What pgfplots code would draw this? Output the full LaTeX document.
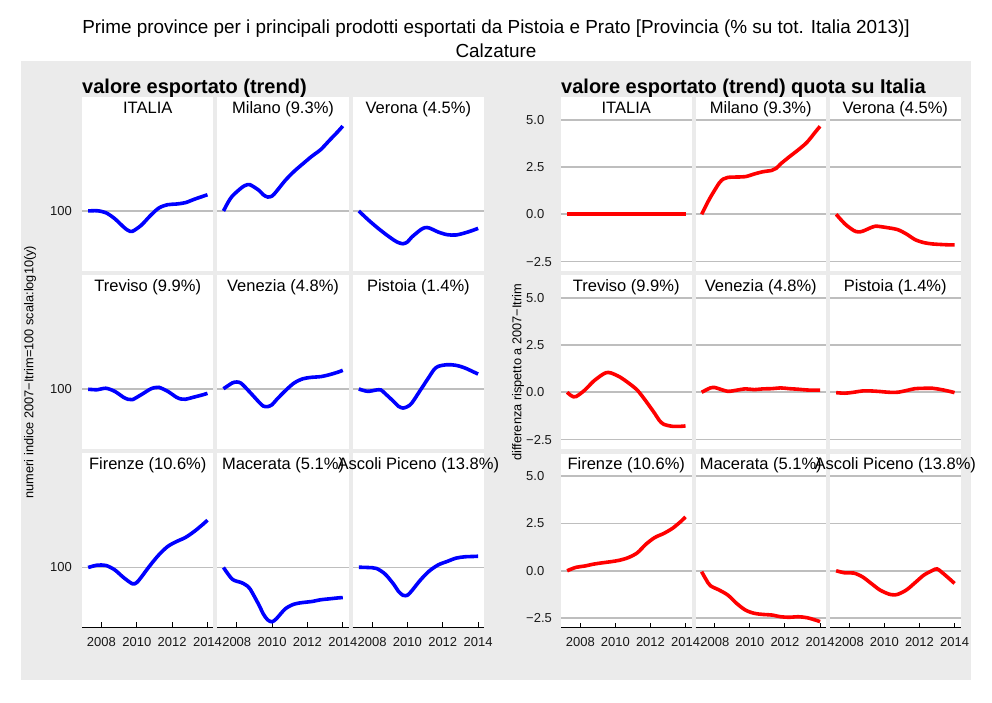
\documentclass[border=0pt]{standalone}
\usepackage{fontspec}
\setmainfont{Liberation Sans}
\usepackage{pgfplots}
\pgfplotsset{compat=1.18}

\definecolor{bg}{RGB}{235,235,235}
\definecolor{gridgray}{RGB}{190,190,190}

\pgfplotsset{
  /pgf/number format/assume math mode=true,
  every axis title shift=0pt,
  mypanel/.style={
    scale only axis, width=131.5pt, height=174pt,
    xmin=2006.9, xmax=2014.34,
    axis line style={draw=none},
    xtick style={draw=none}, ytick style={draw=none},
    xtick={2008,2010,2012,2014}, xticklabels={},
    ymajorgrids, grid style={draw=gridgray, line width=1.6pt},
    axis background/.style={fill=white},
    title style={at={(0.5,1)}, anchor=base, yshift=-16.3pt, inner sep=0pt,
      font=\fontsize{16.5}{19}\selectfont},
    tick label style={font=\fontsize{13}{15}\selectfont, text=black!90},
  },
  mylpanel/.style={mypanel, ymin=61.05, ymax=255.4, ytick={100}, yticklabels={}},
  myrpanel/.style={mypanel, width=130.5pt, ymin=-3.0, ymax=6.2, ytick={-2.5,0,2.5,5}, yticklabels={}},
  mylfirst/.style={yticklabels={100}, yticklabel style={anchor=east, inner sep=0pt, xshift=-10pt}},
  myrfirst/.style={yticklabels={−2.5,0.0,2.5,5.0}, yticklabel style={anchor=west, inner sep=0pt, xshift=-35pt}},
  mybottom/.style={
    xtick style={draw=black, line width=1pt}, xtick pos=left, tick align=inside,
    major tick length=5pt, xticklabels={2008,2010,2012,2014},
    xticklabel style={inner sep=0pt, anchor=north, yshift=-10pt},
    after end axis/.code={\draw[black, line width=1.2pt] (rel axis cs:0,0) -- (rel axis cs:1,0);},
  },
  mybline/.style={blue, line width=3.6pt, smooth},
  myrline/.style={red, line width=3.6pt, smooth},
}

\begin{document}
\begin{tikzpicture}
\fill[white] (0pt,0pt) rectangle (992pt,702pt);
\fill[bg] (21pt,22pt) rectangle (971pt,641pt);

\node[anchor=base, inner sep=0pt, font=\fontsize{18.9}{22}\selectfont] at (496pt,668.7pt)
  {Prime province per i principali prodotti esportati da Pistoia e Prato [Provincia (\% su tot. Italia 2013)]};
\node[anchor=base, inner sep=0pt, font=\fontsize{18.9}{22}\selectfont] at (496pt,644.7pt) {Calzature};

\node[anchor=base west, inner sep=0pt, font=\fontsize{20}{24}\selectfont\bfseries] at (82pt,608.7pt)
  {valore esportato (trend)};
\node[anchor=base west, inner sep=0pt, font=\fontsize{20}{24}\selectfont\bfseries] at (561pt,608.7pt)
  {valore esportato (trend) quota su Italia};

\node[rotate=90, font=\fontsize{12.8}{15}\selectfont] at (30pt,330pt)
  {numeri indice 2007−Itrim=100 scala:log10(y)};
\node[rotate=90, font=\fontsize{12.8}{15}\selectfont] at (518pt,330pt)
  {differenza rispetto a 2007−Itrim};

% ---- valore esportato (trend): indici, scala log ----
\begin{axis}[ymode=log, mylpanel, mylfirst, at={(82pt,431pt)}, anchor=south west, title={ITALIA}]
\addplot[mybline] coordinates {(2007.25,100) (2007.75,100.2) (2008.25,98.6) (2008.75,93.9) (2009.25,87.7) (2009.5,85.3) (2009.75,84.6) (2010.25,88.9) (2010.75,96.0) (2011.25,102.5) (2011.75,105.3) (2012.25,105.9) (2012.75,107.1) (2013.25,110.1) (2013.75,112.9) (2014,114.3)};
\end{axis}
\begin{axis}[ymode=log, mylpanel, at={(217.3pt,431pt)}, anchor=south west, title={Milano (9.3\%)}]
\addplot[mybline] coordinates {(2007.25,100) (2007.5,107.1) (2007.75,113.1) (2008.25,120.8) (2008.5,123.5) (2008.75,124.1) (2009.25,118.6) (2009.5,114.3) (2009.75,112.2) (2010,113.1) (2010.25,117.6) (2010.75,128.7) (2011.25,138.6) (2011.75,147.6) (2012.25,156.9) (2012.75,165.7) (2013.25,178.9) (2013.75,193.0) (2014,201.1)};
\end{axis}
\begin{axis}[ymode=log, mylpanel, at={(352.6pt,431pt)}, anchor=south west, title={Verona (4.5\%)}]
\addplot[mybline] coordinates {(2007.25,100) (2007.75,93.4) (2008.25,87.7) (2008.75,82.8) (2009.25,78.6) (2009.5,77.1) (2009.75,76.4) (2010,77.5) (2010.25,80.7) (2010.75,85.7) (2011,87.2) (2011.25,86.9) (2011.75,84.1) (2012.25,82.3) (2012.75,82.1) (2013.25,83.5) (2013.75,85.5) (2014,86.7)};
\end{axis}

\begin{axis}[ymode=log, mylpanel, mylfirst, at={(82pt,253pt)}, anchor=south west, title={Treviso (9.9\%)}]
\addplot[mybline] coordinates {(2007.25,99.8) (2007.75,99.4) (2008.25,100.6) (2008.75,98.1) (2009.25,93.4) (2009.5,91.9) (2009.75,91.6) (2010.25,95.4) (2010.75,99.8) (2011,101.1) (2011.25,101.4) (2011.75,98.1) (2012.25,93.4) (2012.5,92.1) (2012.75,91.9) (2013.25,93.6) (2013.75,95.4) (2014,96.5)};
\end{axis}
\begin{axis}[ymode=log, mylpanel, at={(217.3pt,253pt)}, anchor=south west, title={Venezia (4.8\%)}]
\addplot[mybline] coordinates {(2007.25,100.2) (2007.75,105.1) (2008,105.9) (2008.25,104.8) (2008.75,97.3) (2009.25,89.9) (2009.5,86.9) (2009.75,86.5) (2010,87.9) (2010.25,91.6) (2010.75,98.6) (2011.25,105.1) (2011.75,108.8) (2012.25,110.1) (2012.75,110.7) (2013.25,112.5) (2013.75,115.0) (2014,116.6)};
\end{axis}
\begin{axis}[ymode=log, mylpanel, at={(352.6pt,253pt)}, anchor=south west, title={Pistoia (1.4\%)}]
\addplot[mybline] coordinates {(2007.25,100) (2007.75,98.1) (2008.25,99.2) (2008.5,99.2) (2008.75,96.2) (2009.25,89.9) (2009.5,86.7) (2009.75,85.5) (2010,86.5) (2010.25,89.1) (2010.75,99.4) (2011.25,111.0) (2011.5,117.2) (2011.75,120.5) (2012.25,122.1) (2012.75,121.5) (2013.25,118.9) (2013.75,115.0) (2014,113.1)};
\end{axis}

\begin{axis}[ymode=log, mylpanel, mylfirst, mybottom, at={(82pt,74.5pt)}, anchor=south west, title={Firenze (10.6\%)}]
\addplot[mybline] coordinates {(2007.25,100) (2007.75,101.9) (2008.25,101.7) (2008.75,98.1) (2009.25,92.1) (2009.75,87.5) (2010,88.4) (2010.25,92.3) (2010.75,101.7) (2011.25,111.0) (2011.75,118.9) (2012.25,123.8) (2012.75,128.0) (2013.25,134.5) (2013.75,142.8) (2014,147.6)};
\end{axis}
\begin{axis}[ymode=log, mylpanel, mybottom, at={(217.3pt,74.5pt)}, anchor=south west, title={Macerata (5.1\%)}]
\addplot[mybline] coordinates {(2007.25,100) (2007.75,90.8) (2008.25,88.4) (2008.5,86.7) (2008.75,83.9) (2009.25,73.6) (2009.5,68.3) (2009.75,65.0) (2010,64.0) (2010.25,65.7) (2010.75,71.2) (2011.25,74.0) (2011.75,75.0) (2012.25,75.6) (2012.75,76.7) (2013.25,77.3) (2013.75,77.9) (2014,78.1)};
\end{axis}
\begin{axis}[ymode=log, mylpanel, mybottom, at={(352.6pt,74.5pt)}, anchor=south west, title={Ascoli Piceno (13.8\%)}]
\addplot[mybline] coordinates {(2007.25,100.2) (2007.75,100) (2008.25,99.2) (2008.75,94.6) (2009.25,86.7) (2009.5,82.1) (2009.75,79.6) (2010,79.6) (2010.25,82.6) (2010.75,90.4) (2011.25,97.3) (2011.75,102.2) (2012.25,105.1) (2012.75,108.0) (2013.25,109.2) (2013.75,109.5) (2014,109.7)};
\end{axis}

% ---- quota su Italia: differenze ----
\begin{axis}[myrpanel, myrfirst, at={(561pt,431pt)}, anchor=south west, title={ITALIA}]
\addplot[myrline] coordinates {(2007.25,0) (2010,0) (2014,0)};
\end{axis}
\begin{axis}[myrpanel, at={(695.5pt,431pt)}, anchor=south west, title={Milano (9.3\%)}]
\addplot[myrline] coordinates {(2007.25,0) (2007.5,0.46) (2007.75,0.9) (2008.25,1.65) (2008.5,1.87) (2008.75,1.95) (2009.25,1.97) (2009.75,1.99) (2010.25,2.13) (2010.75,2.25) (2011.25,2.32) (2011.5,2.43) (2011.75,2.66) (2012.25,3.04) (2012.75,3.40) (2013.25,3.80) (2013.75,4.37) (2014,4.65)};
\end{axis}
\begin{axis}[myrpanel, at={(830pt,431pt)}, anchor=south west, title={Verona (4.5\%)}]
\addplot[myrline] coordinates {(2007.25,0) (2007.75,-0.51) (2008.25,-0.86) (2008.5,-0.93) (2008.75,-0.90) (2009.25,-0.70) (2009.5,-0.63) (2009.75,-0.65) (2010.25,-0.72) (2010.75,-0.81) (2011.25,-1.04) (2011.75,-1.34) (2012.25,-1.50) (2012.75,-1.57) (2013.25,-1.60) (2013.75,-1.62) (2014,-1.62)};
\end{axis}

\begin{axis}[myrpanel, myrfirst, at={(561pt,253pt)}, anchor=south west, title={Treviso (9.9\%)}]
\addplot[myrline] coordinates {(2007.25,0) (2007.5,-0.19) (2007.75,-0.23) (2008.25,0.11) (2008.75,0.58) (2009.25,0.93) (2009.5,1.04) (2009.75,1.02) (2010.25,0.81) (2010.75,0.49) (2011.25,0.11) (2011.75,-0.48) (2012.25,-1.13) (2012.5,-1.48) (2012.75,-1.69) (2013.25,-1.80) (2013.75,-1.80) (2014,-1.78)};
\end{axis}
\begin{axis}[myrpanel, at={(695.5pt,253pt)}, anchor=south west, title={Venezia (4.8\%)}]
\addplot[myrline] coordinates {(2007.25,0) (2007.75,0.23) (2008,0.25) (2008.25,0.18) (2008.75,0.05) (2009.25,0.11) (2009.75,0.18) (2010.25,0.14) (2010.75,0.18) (2011.25,0.19) (2011.75,0.23) (2012.25,0.19) (2012.75,0.16) (2013.25,0.12) (2013.75,0.11) (2014,0.11)};
\end{axis}
\begin{axis}[myrpanel, at={(830pt,253pt)}, anchor=south west, title={Pistoia (1.4\%)}]
\addplot[myrline] coordinates {(2007.25,-0.02) (2007.75,-0.05) (2008.25,0) (2008.75,0.07) (2009.25,0.07) (2009.75,0.04) (2010.25,0) (2010.75,0) (2011.25,0.09) (2011.75,0.19) (2012.25,0.21) (2012.75,0.21) (2013.25,0.14) (2013.75,0.04) (2014,-0.02)};
\end{axis}

\begin{axis}[myrpanel, myrfirst, mybottom, at={(561pt,74.5pt)}, anchor=south west, title={Firenze (10.6\%)}]
\addplot[myrline] coordinates {(2007.25,0) (2007.75,0.18) (2008.25,0.25) (2008.75,0.35) (2009.25,0.42) (2009.75,0.48) (2010.25,0.56) (2010.75,0.70) (2011.25,0.95) (2011.75,1.41) (2012.25,1.76) (2012.75,1.97) (2013.25,2.24) (2013.75,2.62) (2014,2.85)};
\end{axis}
\begin{axis}[myrpanel, mybottom, at={(695.5pt,74.5pt)}, anchor=south west, title={Macerata (5.1\%)}]
\addplot[myrline] coordinates {(2007.25,-0.05) (2007.5,-0.46) (2007.75,-0.79) (2008.25,-1.02) (2008.75,-1.29) (2009.25,-1.73) (2009.75,-2.08) (2010.25,-2.25) (2010.75,-2.31) (2011.25,-2.34) (2011.75,-2.43) (2012.25,-2.46) (2012.75,-2.43) (2013.25,-2.48) (2013.75,-2.61) (2014,-2.69)};
\end{axis}
\begin{axis}[myrpanel, mybottom, at={(830pt,74.5pt)}, anchor=south west, title={Ascoli Piceno (13.8\%)}]
\addplot[myrline] coordinates {(2007.25,0) (2007.75,-0.11) (2008.25,-0.12) (2008.75,-0.32) (2009.25,-0.67) (2009.75,-1.02) (2010.25,-1.23) (2010.5,-1.27) (2010.75,-1.25) (2011.25,-1.02) (2011.75,-0.63) (2012.25,-0.23) (2012.75,0.02) (2013,0.10) (2013.25,-0.06) (2013.75,-0.46) (2014,-0.67)};
\end{axis}
\end{tikzpicture}
\end{document}
